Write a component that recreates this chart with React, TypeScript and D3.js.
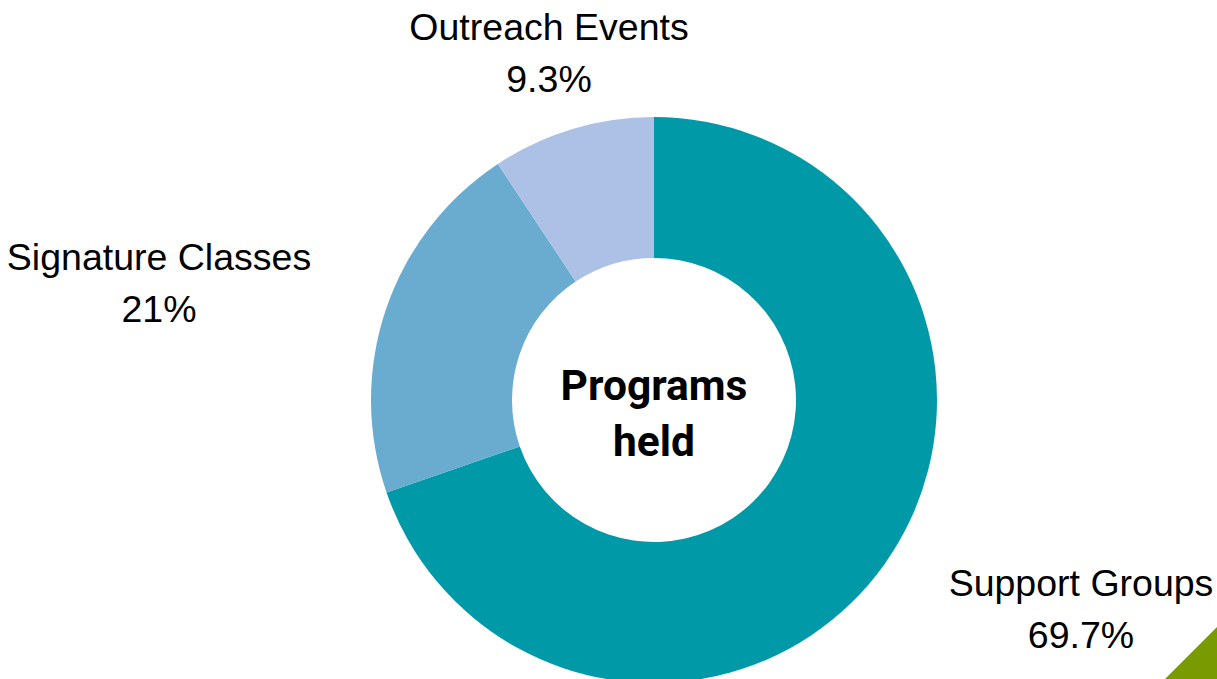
import React from "react";
import * as d3 from "d3";

const categories = ["Support Groups", "Signature Classes", "Outreach Events"];
const values = [69.7, 21, 9.3];
const valueLabels = ["69.7%", "21%", "9.3%"];
const colors = ["#0099A8", "#6AACCF", "#ADC1E6"];
const centerTitle = ["Programs", "held"];

const W = 1217;
const H = 679;
const cx = 654;
const cy = 400;
const outerR = 283;
const innerR = 142;

const labelPos: { x: number; y: number }[] = [
  { x: 1081, y: 596 },
  { x: 159, y: 270 },
  { x: 549, y: 40 },
];

export default function App() {
  const pie = d3.pie<number>().sort(null).value((d) => d)(values);
  const arc = d3.arc<d3.PieArcDatum<number>>().innerRadius(innerR).outerRadius(outerR);
  return (
    <svg
      width={W}
      height={H}
      style={{ position: "absolute", left: 0, top: 0, background: "#fff" }}
    >
      <rect width={W} height={H} fill="#fff" />
      <g transform={`translate(${cx},${cy})`}>
        {pie.map((p, i) => (
          <path key={categories[i]} d={arc(p) || ""} fill={colors[i]} />
        ))}
        <text
          textAnchor="middle"
          fontFamily="Roboto"
          fontWeight="bold"
          fontSize={42.5}
          fill="#000"
        >
          <tspan x={0} y={0}>{centerTitle[0]}</tspan>
          <tspan x={0} y={56}>{centerTitle[1]}</tspan>
        </text>
      </g>
      {categories.map((c, i) => (
        <text
          key={c}
          textAnchor="middle"
          fontFamily="'Liberation Sans', Arial, sans-serif"
          fontSize={37.5}
          fill="#000"
        >
          <tspan x={labelPos[i].x} y={labelPos[i].y}>{c}</tspan>
          <tspan x={labelPos[i].x} y={labelPos[i].y + 52}>{valueLabels[i]}</tspan>
        </text>
      ))}
      <polygon points={`${W - 52},${H} ${W},${H - 52} ${W},${H}`} fill="#7A9A01" />
    </svg>
  );
}
